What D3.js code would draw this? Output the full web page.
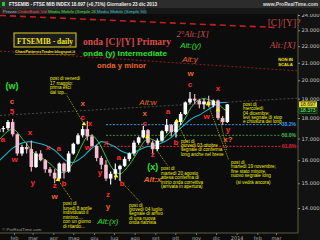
<!DOCTYPE html>
<html lang="it">
<head>
<meta charset="utf-8">
<title>FTSEMIB daily</title>
<script src="https://d3js.org/d3.v7.min.js"></script>
<style>
body { margin: 0; background: #000; }
svg { display: block; font-family: "Liberation Sans", Arial, sans-serif; }
</style>
</head>
<body>
<script>
// weekly bars (monday of each week, last week includes 23 dic)
const weeks = ["2013-01-07","2013-01-14","2013-01-21","2013-01-28","2013-02-04","2013-02-11","2013-02-18","2013-02-25",
  "2013-03-04","2013-03-11","2013-03-18","2013-03-25","2013-04-01","2013-04-08","2013-04-15","2013-04-22","2013-04-29",
  "2013-05-06","2013-05-13","2013-05-20","2013-05-27","2013-06-03","2013-06-10","2013-06-17","2013-06-24","2013-07-01",
  "2013-07-08","2013-07-15","2013-07-22","2013-07-29","2013-08-05","2013-08-12","2013-08-19","2013-08-26","2013-09-02",
  "2013-09-09","2013-09-16","2013-09-23","2013-09-30","2013-10-07","2013-10-14","2013-10-21","2013-10-28","2013-11-04",
  "2013-11-11","2013-11-18","2013-11-25","2013-12-02","2013-12-09","2013-12-16"];
const open  = [17300,17450,17500,17800,17200,16300,16600,16500,15700,16300,16000,15600,15450,15200,15850,15500,16300,
  16750,17150,17450,17100,16650,16100,15800,15200,15400,15600,15750,16050,16300,16800,17050,17400,16800,16500,
  16900,17350,17650,17300,17800,18200,18800,19000,18900,18700,18850,18650,18900,18000,17800];
const high  = [17650,17600,17900,17950,17250,16700,16800,16900,16400,16450,16050,15700,15600,15900,15900,16400,16800,
  17250,17600,17850,17200,16700,16200,16000,15500,15850,15800,16150,16350,16900,17100,17600,17450,16900,17000,
  17400,17950,17700,17900,18300,18850,19350,19250,19000,19000,19150,18950,18950,18100,18720];
const low   = [17200,17300,17400,17100,16200,16200,16300,15500,15650,15950,15450,15300,15000,15150,15200,15450,16250,
  16700,17050,16900,16600,15950,15600,15100,14950,15150,15100,15700,15950,16200,16700,17000,16700,16250,16400,
  16850,17250,17100,17050,17650,18150,18700,18700,18500,18450,18550,18550,17900,17650,17750];
const close = [17450,17500,17800,17200,16300,16600,16500,15700,16300,16000,15600,15450,15200,15850,15500,16300,16750,
  17150,17450,17100,16650,16100,15800,15200,15400,15600,15750,16050,16300,16800,17050,17400,16800,16500,16900,
  17350,17650,17300,17800,18200,18800,19000,18900,18700,18850,18650,18900,18000,17800,18697];
// moving averages read at the same weeks
const ma20 = [16900,17150,17350,17450,17300,17000,16750,16450,16250,16150,16000,15850,15650,15500,15450,15600,15900,
  16300,16750,17100,17150,16950,16600,16150,15750,15500,15400,15550,15800,16100,16450,16800,17000,16950,16850,
  16900,17150,17350,17450,17650,18000,18450,18750,18950,19000,18950,18850,18750,18500,18350];
const ma50 = [15950,16150,16350,16550,16680,16780,16830,16850,16800,16750,16680,16580,16450,16250,16050,15920,15900,
  16000,16150,16350,16550,16700,16850,16800,16700,16600,16450,16350,16300,16350,16450,16550,16620,16650,16700,
  16800,16900,17050,17300,17500,17700,17900,18050,18150,18300,18450,18600,18750,18800,18800];

const monthLabels = ["feb","mar","apr","mag","giu","lug","ago","set","ott","nov","dic","2014","feb","mar"];
const priceTicks = [14000,15000,16000,17000,18000,19000,20000,21000,22000,23000,24000];
const lastPrice = 18697, lastMa20 = 18373;

// fibonacci levels (retracement of the jun-oct rise)
const fibNames = ["38.2%","50.0%","61.8%"];
const fibValues = [17670,17150,16630];
const fibStart = ["2013-06-19","2013-06-19","2013-06-10"];
const fibColors = ["#2a9be0","#3f8f3f","#e02424"];

// trendlines: [date1, price1, date2, price2]
const trendRedThick = ["2013-01-11",23970,"2014-02-27",23180];
const trendRedThin = ["2013-01-11",21700,"2014-04-03",20530];
const trendGray = ["2013-01-11",18130,"2014-04-03",19030];
const targetLine = 24184;

// wave labels: text, date, price, colour
const waveText  = ["c","5","a","x","w","x","a","y","z","b","w","x","c","x","w","x","y","z","y","a","b","x","c","z","a","b","c","w","x","w","y","x?"];
const waveDate  = ["2013-01-29","2013-01-29","2013-01-15","2013-02-25","2013-02-02","2013-03-24","2013-04-09","2013-03-01",
  "2013-04-03","2013-04-17","2013-04-03","2013-05-15","2013-05-15","2013-05-26","2013-05-23","2013-06-19","2013-06-10",
  "2013-06-22","2013-06-22","2013-07-08","2013-07-13","2013-08-16","2013-08-16","2013-08-28","2013-09-20","2013-10-02",
  "2013-10-23","2013-10-24","2013-12-04","2013-11-17","2013-12-19","2013-12-19"];
const wavePrice = [18870,18350,16930,17310,16020,16600,16510,15050,14890,15010,14440,18770,18050,17750,16600,16790,15440,
  14520,14040,16140,15010,18250,17750,16260,18350,16830,19740,20410,19520,18100,17410,16930];
const waveColor = ["o","r","r","r","r","r","r","r","r","r","o","o","r","r","r","r","r","r","o","r","r","o","r","r","r","r","r","o","r","r","r","o"];

// alternative counts
const altText  = ["(w)","(x)","Alt:x","Alt:(x)","Alt:w","Alt:(y)","Alt:y","2°Alt:[X]","[C]/[Y]?","Alt:[X]"];
const altDate  = ["2013-01-29","2013-08-28","2013-08-28","2013-06-22","2013-08-21","2013-10-24","2013-10-23","2013-10-27","2014-03-13","2014-03-11"];
const altPrice = [19680,15700,15150,13500,18820,22070,21170,22760,23470,22070];

// blog posts: date, price of the marker, end of the dotted leader
const postDate  = ["2013-04-08","2013-05-17","2013-07-04","2013-08-20","2013-10-03","2013-11-19","2013-12-04"];
const postPrice = [15150,17700,15310,17070,17850,18720,18410];
const leadDate  = ["2013-04-29","2013-04-21","2013-08-09","2013-09-20","2013-10-18","2013-12-20","2013-12-17"];
const leadPrice = [14310,19200,14240,15740,16830,16020,16470];

const W = 320, H = 240;
const plotR = 298, plotT = 14, plotB = 233;
const parse = d3.timeParse("%Y-%m-%d");
const itFmt = d3.formatLocale({decimal: ",", thousands: ".", grouping: [3], currency: ["", "€"]}).format(",.0f");

const x = d3.scaleTime()
  .domain([new Date(2013, 0, 1), new Date(2014, 2, 1)])
  .range([-6.7, 276]);
const y = d3.scaleLog()
  .domain([14000, 24000])
  .range([208, 15]);

const svg = d3.select("body").append("svg")
  .attr("width", W)
  .attr("height", H);

svg.append("rect").attr("width", W).attr("height", H).attr("fill", "#0c0c0c");
svg.append("rect").attr("x", plotR).attr("y", plotT).attr("width", W - plotR).attr("height", H - plotT).attr("fill", "#121212");

svg.append("clipPath").attr("id", "plot")
  .append("rect").attr("x", 0).attr("y", plotT).attr("width", plotR).attr("height", plotB - plotT);

const g = svg.append("g").attr("clip-path", "url(#plot)");

function seg(t) {
  return [[x(parse(t[0])), y(t[1])], [x(parse(t[2])), y(t[3])]];
}

// trendlines
g.append("line").datum(seg(["2013-01-01", targetLine, "2014-04-15", targetLine]))
  .attr("x1", d => d[0][0]).attr("y1", d => d[0][1]).attr("x2", d => d[1][0]).attr("y2", d => d[1][1])
  .attr("stroke", "#d02020").attr("stroke-width", 1).attr("stroke-dasharray", "3,2");
[[trendRedThick, "#c81e1e", 1.6, "6,4"], [trendRedThin, "#b82020", 0.8, "2,2"], [trendGray, "#5a5a5a", 0.8, "2,2"]]
  .forEach(t => {
    const s = seg(t[0]);
    g.append("line")
      .attr("x1", s[0][0]).attr("y1", s[0][1]).attr("x2", s[1][0]).attr("y2", s[1][1])
      .attr("stroke", t[1]).attr("stroke-width", t[2]).attr("stroke-dasharray", t[3]);
  });

// fibonacci
fibValues.forEach((v, i) => {
  g.append("line")
    .attr("x1", x(parse(fibStart[i]))).attr("x2", plotR)
    .attr("y1", y(v)).attr("y2", y(v))
    .attr("stroke", fibColors[i]).attr("stroke-width", 1).attr("stroke-dasharray", "2,1.5");
});

// moving averages
const dates = weeks.map(w => d3.timeDay.offset(parse(w), 2));
const line = d3.line().x((d, i) => x(dates[i])).y(d => y(d)).curve(d3.curveMonotoneX);
g.append("path").datum(ma50).attr("d", line).attr("fill", "none").attr("stroke", "#1db4c4").attr("stroke-width", 1.1);
g.append("path").datum(ma20).attr("d", line).attr("fill", "none").attr("stroke", "#3ec23e").attr("stroke-width", 1);

// candles
const bars = g.selectAll("g.bar").data(weeks).enter().append("g").attr("class", "bar");
bars.append("line")
  .attr("x1", (d, i) => x(dates[i])).attr("x2", (d, i) => x(dates[i]))
  .attr("y1", (d, i) => y(high[i])).attr("y2", (d, i) => y(low[i]))
  .attr("stroke", (d, i) => close[i] >= open[i] ? "#f4f4f4" : "#f2a6c2").attr("stroke-width", 1.2);
bars.append("rect")
  .attr("x", (d, i) => x(dates[i]) - 1.8).attr("width", 3.6)
  .attr("y", (d, i) => y(Math.max(open[i], close[i])))
  .attr("height", (d, i) => Math.max(1, Math.abs(y(open[i]) - y(close[i]))))
  .attr("fill", (d, i) => close[i] >= open[i] ? "#ffffff" : "#f7bcd2");

// leaders + markers
postDate.forEach((d, i) => {
  g.append("line")
    .attr("x1", x(parse(d))).attr("y1", y(postPrice[i]))
    .attr("x2", x(parse(leadDate[i]))).attr("y2", y(leadPrice[i]))
    .attr("stroke", "#c8c820").attr("stroke-width", 0.8).attr("stroke-dasharray", "1,1");
  g.append("path")
    .attr("d", d3.symbol(d3.symbolTriangle, 9)())
    .attr("transform", `translate(${x(parse(d))},${y(postPrice[i])})`)
    .attr("fill", "#ffff00");
});

// wave labels
const colors = {r: "#ff2a2a", o: "#e8642c"};
waveText.forEach((t, i) => {
  svg.append("text")
    .attr("x", x(parse(waveDate[i]))).attr("y", y(wavePrice[i]))
    .attr("text-anchor", "middle").attr("dominant-baseline", "central")
    .attr("font-size", 8).attr("font-weight", "bold")
    .attr("fill", colors[waveColor[i]])
    .text(t);
});

const altStyle = [
  ["#2ee02e", 9, "bold", "normal", "sans"], ["#2ee02e", 9, "bold", "normal", "sans"],
  ["#e8642c", 8, "bold", "italic", "sans"], ["#2ee02e", 8, "normal", "italic", "sans"],
  ["#e8642c", 8, "normal", "italic", "sans"], ["#2ee02e", 8, "normal", "italic", "sans"],
  ["#e8642c", 8, "normal", "italic", "sans"], ["#d24c4c", 8.5, "normal", "italic", "serif"],
  ["#c84848", 9.5, "normal", "normal", "serif"], ["#d24c4c", 9, "normal", "italic", "serif"]];
altText.forEach((t, i) => {
  const s = altStyle[i];
  svg.append("text")
    .attr("x", x(parse(altDate[i]))).attr("y", y(altPrice[i]))
    .attr("text-anchor", "middle").attr("dominant-baseline", "central")
    .attr("font-size", s[1]).attr("font-weight", s[2]).attr("font-style", s[3])
    .attr("font-family", s[4] === "serif" ? "Liberation Serif, serif" : null)
    .attr("fill", s[0])
    .text(t);
});

// blog notes
function note(x0, y0, lh, lines) {
  const t = svg.append("text").attr("x", x0).attr("y", y0)
    .attr("font-size", 4.6).attr("fill", "#f0f000");
  lines.forEach((l, i) => t.append("tspan").attr("x", x0).attr("y", y0 + i * lh).text(l));
}
note(50, 80, 4.6, ["post di venerdì", "17 maggio:", "prima esci", "dal top..."]);
note(63, 205, 4.6, ["post di", "lunedì 8 aprile", "individuato il", "minimo....", "con un giorno", "di ritardo..."]);
note(129, 207, 4.2, ["post di", "giovedì 04 luglio", "segnale di arrivo", "di una nuova", "onda rialzista"]);
note(161, 170, 4.6, ["post di", "martedì 20 agosto", "attesa conferma di", "inizio onda correttiva", "(arrivata in apertura)"]);
note(181, 143, 4.2, ["post di", "giovedì 03 ottobre", "segnale di conferma", "long anche nel breve"]);
note(243, 106, 4.3, ["post di", "mercoledì", "04 dicembre;", "levi segnale di stop", "e chiusura dei long"]);
note(231, 164, 4.3, ["post di", "martedì 19 novembre;", "fine stato minore,", "nuovo segnale long"]);
note(236, 184, 4.3, ["(si vedrà ancora)"]);

// fib tags
fibValues.forEach((v, i) => {
  svg.append("rect").attr("x", 282).attr("y", y(v) - 3).attr("width", 15).attr("height", 6).attr("fill", "#101018");
  svg.append("text").attr("x", 296).attr("y", y(v) + 1.8).attr("text-anchor", "end")
    .attr("font-size", 5).attr("font-weight", "bold").attr("fill", fibColors[i] === "#3f8f3f" ? "#40c040" : fibColors[i])
    .text(fibNames[i]);
});

// frame and axes
svg.append("line").attr("x1", 0).attr("x2", plotR).attr("y1", plotB).attr("y2", plotB).attr("stroke", "#5c5c3c");
svg.append("line").attr("x1", plotR).attr("x2", plotR).attr("y1", plotT).attr("y2", plotB).attr("stroke", "#5c5c3c");

const yAxis = svg.append("g").attr("transform", `translate(${plotR},0)`)
  .call(d3.axisRight(y).tickValues(priceTicks).tickSize(2).tickFormat(itFmt));
yAxis.select(".domain").remove();
yAxis.selectAll("line").attr("stroke", "#888");
yAxis.selectAll("text").attr("font-size", 5.2).attr("fill", "#c8c8c8").attr("x", 3.5).attr("font-family", "DejaVu Sans, sans-serif");

const monthTicks = d3.timeMonth.range(new Date(2013, 1, 1), new Date(2014, 2, 2));
const xAxis = svg.append("g").attr("transform", `translate(0,${plotB})`)
  .call(d3.axisBottom(x).tickValues(monthTicks).tickSize(2).tickFormat((d, i) => monthLabels[i]));
xAxis.select(".domain").remove();
xAxis.selectAll("line").attr("stroke", "#777");
xAxis.selectAll("text").attr("font-size", 5).attr("fill", "#aaa").attr("y", 3.5).attr("font-family", "DejaVu Sans, sans-serif");

// price tags
svg.append("rect").attr("x", 299).attr("y", y(lastPrice) - 3).attr("width", 18).attr("height", 6).attr("fill", "#e8d81e");
svg.append("text").attr("x", 308).attr("y", y(lastPrice) + 1.8).attr("text-anchor", "middle")
  .attr("font-size", 5).attr("fill", "#222").text(itFmt(lastPrice));
svg.append("rect").attr("x", 299).attr("y", y(lastMa20) - 3).attr("width", 18).attr("height", 6)
  .attr("fill", "#0b2a0b").attr("stroke", "#3a8a3a").attr("stroke-width", 0.5);
svg.append("text").attr("x", 308).attr("y", y(lastMa20) + 1.8).attr("text-anchor", "middle")
  .attr("font-size", 5).attr("fill", "#8df08d").text(itFmt(lastMa20));

svg.append("text").attr("x", 297).attr("y", y(targetLine) + 1)
  .attr("text-anchor", "end").attr("font-size", 4).attr("fill", "#777").text("24.184 ([C]/[Y])");

// header
svg.append("rect").attr("width", W).attr("height", 8).attr("fill", "#2c2c2c");
svg.append("rect").attr("y", 8).attr("width", W).attr("height", 6).attr("fill", "#181818");
svg.append("rect").attr("x", 2).attr("y", 2).attr("width", 3).attr("height", 4).attr("fill", "#20d020");
svg.append("text").attr("x", 9).attr("y", 6).attr("font-size", 5).attr("font-weight", "bold").attr("fill", "#eee")
  .attr("textLength", 148).attr("lengthAdjust", "spacingAndGlyphs")
  .text("FTSEMIB - FTSE MIB INDEX   18.697 (+0,71%)   Giornaliero 23 dic 2013");
svg.append("text").attr("x", 318).attr("y", 6).attr("text-anchor", "end").attr("font-size", 5)
  .attr("font-weight", "bold").attr("fill", "#ddd").text("www.ProRealTime.com");

const legendItems = [["Prezzo", "#bbb", 2, 14], ["OrderBook Vol", "#ff4a4a", 17, 29], ["Media Mobile (Simple 20)", "#3ee03e", 47, 48], ["Media Mobile (Simple 50)", "#22c8d0", 96, 49]];
legendItems.forEach(l => {
  svg.append("rect").attr("x", l[2]).attr("y", 8.5).attr("width", l[3]).attr("height", 5)
    .attr("fill", "#222").attr("stroke", "#444").attr("stroke-width", 0.4);
  svg.append("text").attr("x", l[2] + 1).attr("y", 12.6).attr("font-size", 4.4).attr("fill", l[1]).text(l[0]);
});

// titles
svg.append("rect").attr("x", 14).attr("y", 33).attr("width", 62).attr("height", 14)
  .attr("fill", "#1c1c1c").attr("stroke", "#e0d020").attr("stroke-width", 1);
svg.append("text").attr("x", 45).attr("y", 43.5).attr("text-anchor", "middle")
  .attr("font-family", "Liberation Serif, serif").attr("font-weight", "bold").attr("font-size", 9)
  .attr("fill", "#f2e21c").attr("textLength", 56).attr("lengthAdjust", "spacingAndGlyphs").text("FTSEMIB - daily");
svg.append("text").attr("x", 15).attr("y", 53).attr("font-size", 3.8).attr("font-weight", "bold")
  .attr("fill", "#e8e020").attr("text-decoration", "underline")
  .attr("textLength", 60).attr("lengthAdjust", "spacingAndGlyphs").text("ChartPatternsTrader.blogspot.it");

svg.append("text").attr("x", 83).attr("y", 45).attr("font-family", "Liberation Serif, serif")
  .attr("font-weight", "bold").attr("font-size", 9.5).attr("fill", "#d94a4a")
  .attr("textLength", 88).attr("lengthAdjust", "spacingAndGlyphs").text("onda [C]/[Y] Primary");
svg.append("text").attr("x", 83).attr("y", 56).attr("font-weight", "bold").attr("font-size", 8)
  .attr("fill", "#2ee02e").attr("textLength", 84).attr("lengthAdjust", "spacingAndGlyphs").text("onda (y) Intermediate");
svg.append("text").attr("x", 97).attr("y", 68).attr("font-weight", "bold").attr("font-size", 8)
  .attr("fill", "#e8642c").attr("textLength", 49).attr("lengthAdjust", "spacingAndGlyphs").text("onda y minor");

svg.append("rect").attr("x", 278).attr("y", 57).attr("width", 15).attr("height", 10).attr("fill", "#1a1a10");
svg.append("text").attr("x", 285.5).attr("y", 61).attr("text-anchor", "middle").attr("font-size", 4.2)
  .attr("font-weight", "bold").attr("fill", "#f0e020").text("NON IN");
svg.append("text").attr("x", 285.5).attr("y", 65.5).attr("text-anchor", "middle").attr("font-size", 4.2)
  .attr("font-weight", "bold").attr("fill", "#f0e020").text("SCALA");

svg.append("text").attr("x", 2).attr("y", 231).attr("font-size", 4.4).attr("fill", "#999").text("© ProRealTime.com");
</script>
</body>
</html>
